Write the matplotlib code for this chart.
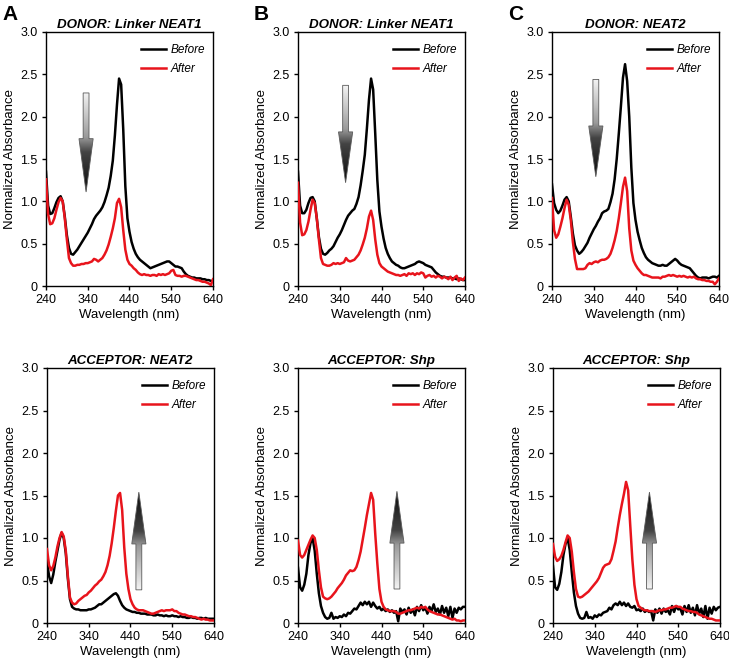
import numpy as np
import matplotlib
matplotlib.use("Agg")
import matplotlib.pyplot as plt
from matplotlib.patches import Polygon
from matplotlib.ticker import FuncFormatter

plt.rcParams['font.family'] = ['Liberation Sans', 'DejaVu Sans']

wavelength = np.arange(240, 645, 5)

donorA_before = [1.35,0.95,0.85,0.86,0.92,0.99,1.04,1.06,1.00,0.82,0.60,0.45,0.38,0.37,0.40,0.43,0.47,0.51,0.55,0.59,
0.63,0.68,0.73,0.79,0.83,0.86,0.89,0.93,0.99,1.07,1.16,1.30,1.48,1.78,2.14,2.45,2.38,1.85,1.18,0.80,
0.64,0.52,0.44,0.38,0.34,0.31,0.29,0.27,0.25,0.23,0.21,0.22,0.23,0.24,0.25,0.26,0.27,0.28,0.29,0.29,
0.27,0.25,0.23,0.23,0.22,0.21,0.17,0.14,0.12,0.11,0.10,0.10,0.09,0.09,0.09,0.08,0.08,0.07,0.07,0.06,0.06]
donorA_after = [1.26,0.85,0.73,0.74,0.80,0.90,0.99,1.04,1.00,0.80,0.55,0.33,0.27,0.24,0.24,0.25,0.25,0.26,0.26,0.27,
0.27,0.28,0.29,0.32,0.31,0.29,0.31,0.33,0.37,0.42,0.49,0.58,0.68,0.80,0.98,1.03,0.93,0.66,0.43,0.31,
0.26,0.24,0.21,0.19,0.16,0.14,0.13,0.14,0.13,0.13,0.12,0.13,0.13,0.12,0.14,0.13,0.14,0.13,0.14,0.15,
0.18,0.19,0.13,0.12,0.12,0.11,0.12,0.12,0.11,0.10,0.09,0.08,0.07,0.07,0.06,0.05,0.05,0.04,0.03,0.01,0.08]

donorB_before = [1.35,0.95,0.86,0.86,0.90,0.98,1.04,1.05,1.00,0.80,0.58,0.44,0.38,0.37,0.39,0.42,0.44,0.47,0.52,0.57,
0.61,0.66,0.72,0.78,0.83,0.86,0.89,0.91,0.97,1.05,1.19,1.36,1.55,1.86,2.20,2.45,2.32,1.80,1.25,0.88,
0.70,0.56,0.45,0.38,0.33,0.29,0.27,0.25,0.24,0.22,0.21,0.21,0.22,0.23,0.24,0.25,0.26,0.28,0.29,0.28,
0.27,0.25,0.24,0.23,0.22,0.19,0.16,0.14,0.12,0.11,0.11,0.10,0.10,0.10,0.09,0.09,0.08,0.09,0.08,0.07,0.07]
donorB_after = [1.22,0.75,0.60,0.61,0.66,0.76,0.90,1.02,0.98,0.80,0.55,0.33,0.26,0.25,0.24,0.24,0.25,0.27,0.26,0.27,
0.26,0.27,0.28,0.33,0.30,0.29,0.30,0.31,0.34,0.37,0.42,0.49,0.57,0.68,0.82,0.89,0.78,0.55,0.37,0.27,
0.23,0.21,0.19,0.17,0.16,0.15,0.14,0.13,0.13,0.12,0.13,0.14,0.12,0.15,0.14,0.15,0.13,0.15,0.14,0.16,
0.15,0.10,0.12,0.13,0.11,0.12,0.10,0.12,0.11,0.09,0.11,0.10,0.08,0.11,0.07,0.10,0.12,0.06,0.09,0.07,0.10]

donorC_before = [1.20,0.98,0.90,0.86,0.89,0.95,1.02,1.05,1.00,0.82,0.62,0.48,0.42,0.38,0.40,0.43,0.47,0.51,0.57,0.62,
0.67,0.71,0.76,0.80,0.86,0.88,0.89,0.91,0.99,1.09,1.26,1.50,1.80,2.12,2.46,2.62,2.42,2.00,1.40,0.98,
0.78,0.64,0.54,0.45,0.39,0.34,0.31,0.29,0.27,0.26,0.25,0.24,0.24,0.25,0.24,0.24,0.26,0.28,0.30,0.32,
0.30,0.27,0.25,0.24,0.23,0.22,0.21,0.18,0.15,0.12,0.10,0.09,0.10,0.10,0.10,0.09,0.10,0.11,0.11,0.10,0.12]
donorC_after = [1.04,0.66,0.57,0.61,0.70,0.80,0.92,1.02,0.96,0.78,0.52,0.32,0.20,0.20,0.20,0.20,0.21,0.25,0.27,0.26,
0.28,0.29,0.28,0.30,0.31,0.31,0.32,0.34,0.38,0.45,0.54,0.65,0.80,0.98,1.17,1.28,1.12,0.68,0.42,0.30,
0.25,0.21,0.18,0.15,0.13,0.13,0.12,0.11,0.10,0.10,0.10,0.10,0.09,0.11,0.11,0.12,0.13,0.12,0.13,0.12,
0.11,0.12,0.11,0.12,0.11,0.10,0.11,0.10,0.11,0.09,0.08,0.08,0.07,0.07,0.06,0.06,0.05,0.05,0.02,0.05,0.09]

accA_before = [0.72,0.55,0.47,0.57,0.72,0.85,0.98,1.06,1.00,0.82,0.52,0.28,0.19,0.17,0.16,0.16,0.15,0.15,0.15,0.15,
0.16,0.16,0.17,0.18,0.20,0.22,0.22,0.24,0.26,0.28,0.30,0.32,0.34,0.35,0.32,0.26,0.21,0.18,0.16,0.15,
0.14,0.13,0.13,0.12,0.12,0.11,0.11,0.11,0.10,0.10,0.10,0.09,0.09,0.10,0.09,0.09,0.08,0.09,0.08,0.08,
0.09,0.08,0.08,0.07,0.08,0.07,0.07,0.06,0.06,0.07,0.06,0.06,0.05,0.06,0.06,0.05,0.06,0.05,0.05,0.05,0.05]
accA_after = [0.87,0.68,0.62,0.67,0.77,0.90,1.00,1.07,1.02,0.85,0.55,0.30,0.24,0.22,0.23,0.26,0.28,0.30,0.32,0.33,
0.36,0.38,0.41,0.44,0.46,0.49,0.51,0.55,0.60,0.68,0.79,0.94,1.12,1.32,1.50,1.53,1.33,0.89,0.58,0.40,
0.28,0.22,0.18,0.16,0.15,0.15,0.15,0.14,0.13,0.12,0.11,0.11,0.12,0.13,0.14,0.15,0.14,0.15,0.15,0.15,
0.16,0.14,0.14,0.12,0.11,0.10,0.10,0.09,0.08,0.08,0.07,0.07,0.06,0.05,0.04,0.05,0.04,0.04,0.03,0.03,0.03]

accB_before = [0.65,0.42,0.38,0.45,0.58,0.80,0.94,1.00,0.85,0.58,0.35,0.20,0.12,0.07,0.05,0.06,0.12,0.05,0.07,0.06,
0.08,0.07,0.10,0.08,0.12,0.11,0.14,0.17,0.16,0.20,0.24,0.21,0.25,0.22,0.25,0.19,0.24,0.20,0.17,0.19,
0.15,0.17,0.14,0.16,0.13,0.15,0.12,0.14,0.02,0.17,0.13,0.16,0.10,0.18,0.12,0.16,0.09,0.19,0.14,0.21,
0.15,0.18,0.11,0.19,0.14,0.22,0.13,0.17,0.10,0.20,0.12,0.18,0.08,0.19,0.06,0.17,0.12,0.18,0.16,0.19,0.19]
accB_after = [0.97,0.80,0.77,0.80,0.86,0.92,0.98,1.03,1.00,0.86,0.62,0.42,0.31,0.29,0.28,0.29,0.31,0.34,0.37,0.41,
0.44,0.47,0.51,0.56,0.59,0.62,0.61,0.62,0.66,0.74,0.84,0.98,1.12,1.27,1.40,1.53,1.45,1.05,0.70,0.40,
0.25,0.19,0.16,0.15,0.14,0.14,0.14,0.13,0.11,0.11,0.12,0.13,0.14,0.15,0.15,0.16,0.17,0.18,0.17,0.19,
0.18,0.19,0.16,0.14,0.13,0.12,0.11,0.10,0.10,0.09,0.08,0.07,0.06,0.05,0.04,0.05,0.03,0.03,0.02,0.03,0.03]

accC_before = [0.67,0.42,0.39,0.46,0.60,0.80,0.93,1.00,0.86,0.60,0.36,0.20,0.11,0.06,0.05,0.06,0.13,0.06,0.07,0.05,
0.09,0.07,0.10,0.09,0.12,0.13,0.14,0.18,0.16,0.21,0.23,0.21,0.25,0.21,0.24,0.20,0.23,0.19,0.18,0.20,
0.15,0.16,0.14,0.17,0.13,0.15,0.13,0.14,0.03,0.16,0.12,0.17,0.11,0.17,0.13,0.15,0.10,0.20,0.13,0.20,
0.16,0.17,0.10,0.20,0.13,0.21,0.12,0.18,0.09,0.21,0.11,0.17,0.07,0.20,0.05,0.18,0.11,0.19,0.15,0.18,0.19]
accC_after = [0.93,0.78,0.73,0.75,0.79,0.86,0.95,1.03,1.00,0.84,0.60,0.40,0.31,0.30,0.31,0.33,0.35,0.37,0.40,0.43,
0.46,0.49,0.53,0.59,0.65,0.68,0.69,0.70,0.75,0.85,0.96,1.12,1.27,1.40,1.52,1.66,1.56,1.15,0.75,0.45,
0.28,0.20,0.18,0.16,0.15,0.15,0.14,0.14,0.14,0.13,0.14,0.15,0.15,0.16,0.16,0.17,0.18,0.18,0.19,0.20,
0.19,0.19,0.17,0.16,0.15,0.14,0.14,0.13,0.13,0.12,0.10,0.09,0.08,0.07,0.06,0.05,0.05,0.04,0.03,0.03,0.03]

titles = ["DONOR: Linker NEAT1", "DONOR: Linker NEAT1", "DONOR: NEAT2",
          "ACCEPTOR: NEAT2", "ACCEPTOR: Shp", "ACCEPTOR: Shp"]
before_series = [donorA_before, donorB_before, donorC_before, accA_before, accB_before, accC_before]
after_series = [donorA_after, donorB_after, donorC_after, accA_after, accB_after, accC_after]
panel_letters = ["A", "B", "C"]
xticks = [240, 340, 440, 540, 640]
yticks = [0, 0.5, 1.0, 1.5, 2.0, 2.5, 3.0]

# arrows: (x center, tail y, head base y, tip y)
arrows = [(336, 2.28, 1.74, 1.11), (354, 2.37, 1.82, 1.22), (345, 2.44, 1.89, 1.29),
          (460, 0.39, 0.93, 1.54), (477, 0.40, 0.94, 1.55), (471, 0.40, 0.94, 1.54)]

W, H = 729, 662
fig = plt.figure(figsize=(W/100, H/100), dpi=100)

lefts = [46, 298, 552]
top_rows = [(32, 286), (368, 623)]

cmap = matplotlib.colors.LinearSegmentedColormap.from_list(
    'g', [(0.0, '#f4f4f4'), (0.45, '#9a9a9a'), (0.6, '#444444'), (1.0, '#0a0a0a')])

def gradient_arrow(ax, xc, ytail, ybase, ytip):
    sw, hw = 7.0, 17.0
    pts = [(xc-sw, ytail), (xc+sw, ytail), (xc+sw, ybase), (xc+hw, ybase),
           (xc, ytip), (xc-hw, ybase), (xc-sw, ybase)]
    poly = Polygon(pts, closed=True, facecolor='none', edgecolor='#5a5a5a', lw=0.6, zorder=4)
    ax.add_patch(poly)
    ylo, yhi = min(ytail, ytip), max(ytail, ytip)
    if ytip < ytail:
        g = 1 - np.linspace(0, 1, 256).reshape(-1, 1)
    else:
        g = np.linspace(0, 1, 256).reshape(-1, 1)
    im = ax.imshow(g, cmap=cmap, extent=[xc-hw, xc+hw, ylo, yhi], origin='lower',
                   aspect='auto', zorder=3, vmin=0, vmax=1)
    im.set_clip_path(poly)

for i in range(6):
    row, col = divmod(i, 3)
    left_px = lefts[col] + (1 if row == 1 and col != 1 else 0)
    right_px = left_px + 167
    t, b = top_rows[row]
    ax = fig.add_axes([left_px/W, 1 - b/H, (right_px-left_px)/W, (b-t)/H])
    ax.plot(wavelength, before_series[i], color='black', lw=1.8, label='Before', zorder=5)
    ax.plot(wavelength, after_series[i], color='#e8141c', lw=1.8, label='After', zorder=6)
    gradient_arrow(ax, *arrows[i])
    ax.set_xlim(240, 640)
    ax.set_ylim(0, 3.0)
    ax.set_xticks(xticks)
    ax.set_yticks(yticks)
    ax.yaxis.set_major_formatter(FuncFormatter(lambda v, p: "0" if v == 0 else f"{v:.1f}"))
    ax.tick_params(direction='out', length=3, width=1, labelsize=9, pad=3)
    for s in ax.spines.values():
        s.set_linewidth(1.0)
    ax.set_xlabel("Wavelength (nm)", fontsize=9.5, labelpad=2)
    ax.set_ylabel("Normalized Absorbance", fontsize=9.5, labelpad=3)
    ax.set_title(titles[i], fontsize=9.6, fontweight='bold', fontstyle='italic', pad=3)
    leg = ax.legend(loc='upper right', frameon=False, prop={'style': 'italic', 'size': 8.5},
                    handlelength=2.1, handletextpad=0.4, labelspacing=0.55,
                    borderaxespad=0.3, bbox_to_anchor=(1.0, 1.0 - 4/254))
    if row == 0:
        fig.text((lefts[col] - 44)/W, 1 - 14/H, panel_letters[col], fontsize=15,
                 fontweight='bold', ha='left', va='center')

fig.savefig("out.png", dpi=100)
